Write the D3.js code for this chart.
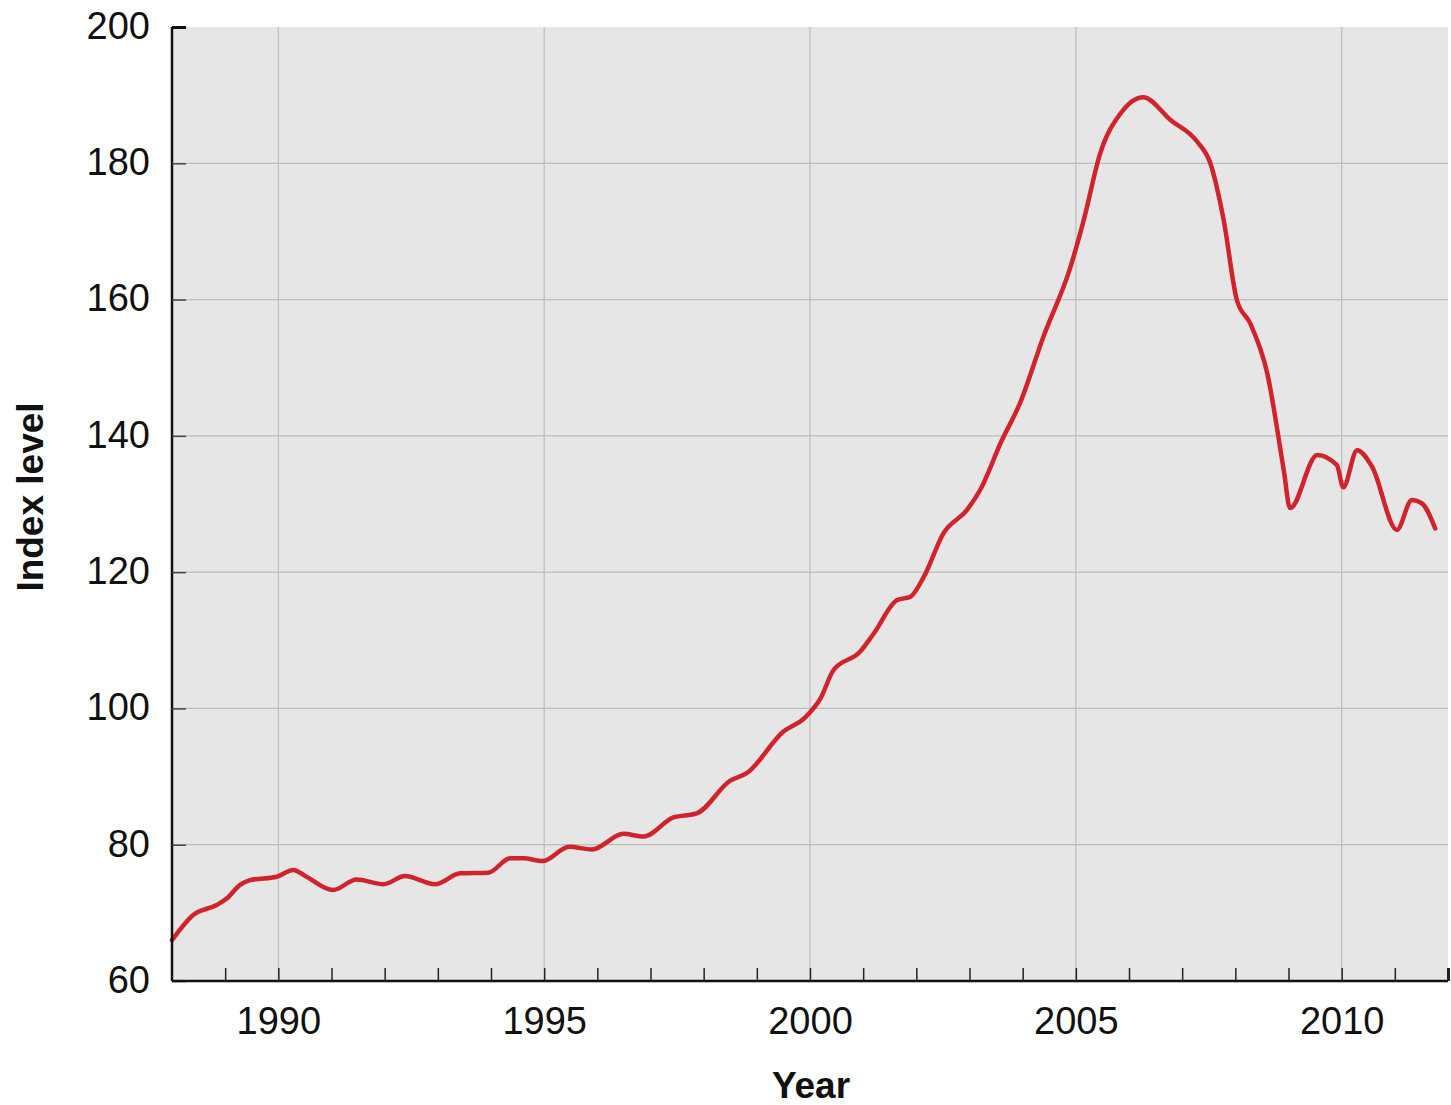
<!DOCTYPE html>
<html><head><meta charset="utf-8">
<script src="https://cdn.jsdelivr.net/npm/d3@7"></script>
<style>
html,body{margin:0;padding:0;background:#fff;}
svg text{font-family:"Liberation Sans",Arial,Helvetica,sans-serif;}
</style></head>
<body><svg id="c" width="1451" height="1105"></svg>
<script>
const years = [1988.0,1988.4,1988.84,1989.03,1989.28,1989.47,1989.97,1990.28,1990.53,1991.03,1991.47,1991.98,1992.38,1992.95,1993.42,1993.95,1994.36,1994.61,1994.97,1995.47,1995.9,1996.49,1996.87,1997.43,1997.87,1998.5,1998.81,1999.5,1999.9,2000.2,2000.44,2000.94,2001.2,2001.64,2001.89,2002.14,2002.51,2002.95,2003.2,2003.6,2003.95,2004.39,2004.9,2005.15,2005.46,2005.84,2006.27,2006.78,2007.28,2007.53,2007.78,2008.03,2008.28,2008.6,2008.91,2009.03,2009.54,2009.91,2010.03,2010.29,2010.57,2011.04,2011.32,2011.51,2011.76];
const values = [66.0,69.7,71.15,72.1,74.1,74.8,75.3,76.3,75.3,73.35,74.9,74.2,75.4,74.2,75.8,75.9,78.0,78.0,77.6,79.7,79.3,81.6,81.2,84.0,84.6,89.4,90.5,96.6,98.6,101.5,105.6,108.3,111.0,115.9,116.4,119.3,125.7,129.1,132.05,139.2,144.8,154.55,164.8,171.7,181.5,187.3,189.7,186.35,183.2,180.0,171.7,159.9,156.5,149.2,135.0,129.4,137.2,135.7,132.45,137.9,135.5,126.2,130.6,130.1,126.4];
const yTicks = [60,80,100,120,140,160,180,200];
const xLabelYears = [1990,1995,2000,2005,2010];
const minorYears = d3.range(1989, 2013);

const svg = d3.select("#c");
const L = 172, R = 1448, T = 27, B = 981;
const x = d3.scaleLinear().domain([1988, 2012]).range([L, R]);
const y = d3.scaleLinear().domain([60, 200]).range([B, T]);

svg.append("rect").attr("x", L).attr("y", T).attr("width", R - L).attr("height", B - T).attr("fill", "#e6e6e6");

// gridlines
svg.append("g").selectAll("line").data(yTicks.filter(d => d > 60 && d < 200)).join("line")
  .attr("x1", L).attr("x2", R).attr("y1", d => y(d)).attr("y2", d => y(d))
  .attr("stroke", "#bdbdbd").attr("stroke-width", 1.2);
svg.append("g").selectAll("line").data(xLabelYears).join("line")
  .attr("x1", d => x(d)).attr("x2", d => x(d)).attr("y1", T).attr("y2", B)
  .attr("stroke", "#bdbdbd").attr("stroke-width", 1.2);

// line
const line = d3.line().x((d, i) => x(years[i])).y(d => y(d)).curve(d3.curveMonotoneX);
svg.append("path").datum(values).attr("d", line)
  .attr("fill", "none").attr("stroke", "#d1232a").attr("stroke-width", 4.5)
  .attr("stroke-linejoin", "round").attr("stroke-linecap", "round");

// y axis
const yAxis = d3.axisLeft(y).tickValues(yTicks).tickSize(-14).tickPadding(22);
const gy = svg.append("g").attr("transform", `translate(${L},0)`).call(yAxis);
gy.select(".domain").attr("stroke", "#111").attr("stroke-width", 2.5).attr("d", `M0,${T}V${B}`);
gy.selectAll(".tick line").attr("stroke", "#444").attr("stroke-width", 1.5);
gy.selectAll(".tick").filter(d => d === 200).select("line").attr("stroke", "#111").attr("stroke-width", 3);
gy.selectAll(".tick text").attr("font-size", 38).attr("fill", "#111").attr("dy", "0.3em");

// x axis
const xAxis = d3.axisBottom(x).tickValues(minorYears).tickSize(-13)
  .tickFormat(d => xLabelYears.includes(d) ? d3.format("d")(d) : "").tickPadding(26);
const gx = svg.append("g").attr("transform", `translate(0,${B})`).call(xAxis);
gx.select(".domain").attr("stroke", "#111").attr("stroke-width", 2.5).attr("d", `M${L},0H${R}`);
gx.selectAll(".tick line").attr("stroke", "#222").attr("stroke-width", 1.5);
gx.selectAll(".tick").filter(d => d === 2012).select("line").attr("stroke-width", 3);
gx.selectAll(".tick text").attr("font-size", 38).attr("fill", "#111").attr("dy", "0.71em");

// titles
svg.append("text").attr("x", 811).attr("y", 1098).attr("text-anchor", "middle")
  .attr("font-size", 37).attr("font-weight", "bold").attr("fill", "#111").text("Year");
svg.append("text").attr("transform", "translate(43,497) rotate(-90)").attr("text-anchor", "middle")
  .attr("font-size", 37).attr("font-weight", "bold").attr("fill", "#111").text("Index level");
</script></body></html>
